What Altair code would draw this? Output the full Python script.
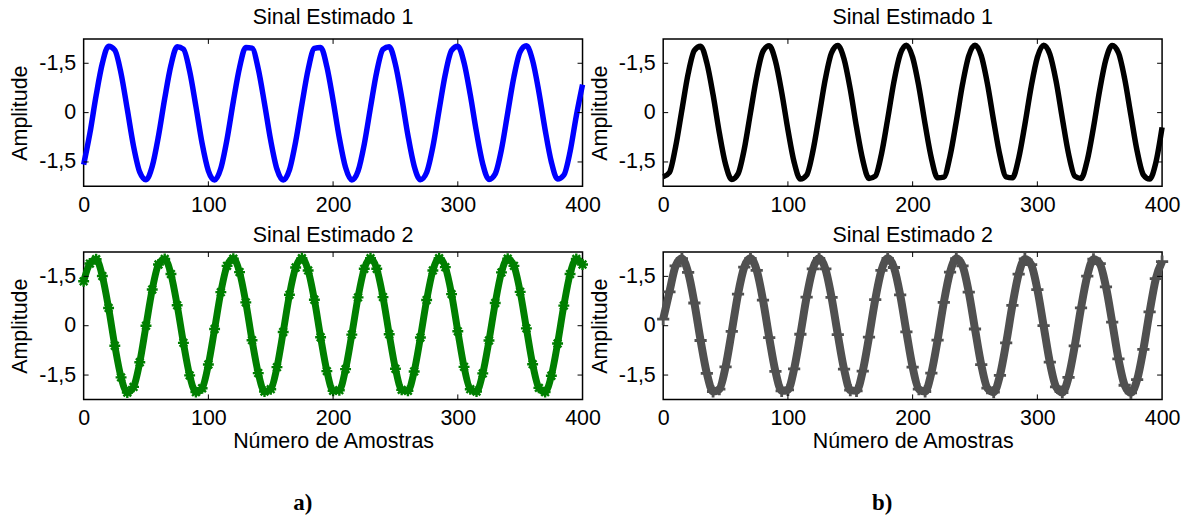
import altair as alt
import pandas as pd

# sample index (Número de Amostras), every 5th sample
samples = list(range(0, 401, 5))

# a) Sinal Estimado 1 (blue line)
sig_a1 = [-1.58, -0.63, 0.52, 1.50, 2.02, 1.90, 1.19, 0.10, -1.02, -1.81,
          -2.04, -1.63, -0.71, 0.43, 1.44, 2.00, 1.93, 1.26, 0.19, -0.94,
          -1.77, -2.05, -1.69, -0.80, 0.34, 1.37, 1.98, 1.96, 1.33, 0.28,
          -0.85, -1.72, -2.05, -1.74, -0.88, 0.25, 1.31, 1.95, 1.98, 1.40,
          0.37, -0.77, -1.67, -2.05, -1.78, -0.96, 0.16, 1.24, 1.92, 2.00,
          1.46, 0.46, -0.69, -1.62, -2.04, -1.82, -1.04, 0.08, 1.17, 1.89,
          2.02, 1.52, 0.54, -0.60, -1.56, -2.03, -1.86, -1.12, -0.01, 1.09,
          1.85, 2.03, 1.58, 0.63, -0.52, -1.50, -2.02, -1.90, -1.19, -0.10,
          0.85]

# a) Sinal Estimado 2 (green, star markers)
sig_a2 = [1.35, 1.89, 2.02, 1.51, 0.54, -0.61, -1.57, -2.03, -1.86, -1.11,
          0.00, 1.10, 1.86, 2.03, 1.57, 0.62, -0.52, -1.51, -2.02, -1.90,
          -1.18, -0.10, 1.02, 1.82, 2.04, 1.63, 0.71, -0.44, -1.44, -2.00,
          -1.93, -1.26, -0.19, 0.94, 1.77, 2.05, 1.68, 0.79, -0.35, -1.38,
          -1.98, -1.96, -1.32, -0.27, 0.86, 1.73, 2.05, 1.73, 0.87, -0.26,
          -1.31, -1.95, -1.98, -1.39, -0.36, 0.78, 1.68, 2.05, 1.78, 0.96,
          -0.17, -1.25, -1.93, -2.00, -1.45, -0.45, 0.69, 1.62, 2.04, 1.82,
          1.03, -0.08, -1.17, -1.89, -2.02, -1.52, -0.54, 0.61, 1.57, 2.03,
          1.86]

# b) Sinal Estimado 1 (black line)
sig_b1 = [-1.95, -1.82, -1.03, 0.08, 1.18, 1.89, 2.02, 1.51, 0.54, -0.61,
          -1.57, -2.03, -1.86, -1.11, 0.00, 1.10, 1.86, 2.03, 1.57, 0.62,
          -0.52, -1.51, -2.02, -1.90, -1.18, -0.10, 1.02, 1.82, 2.04, 1.63,
          0.71, -0.44, -1.44, -2.00, -1.93, -1.26, -0.19, 0.94, 1.77, 2.05,
          1.68, 0.79, -0.35, -1.38, -1.98, -1.96, -1.32, -0.27, 0.86, 1.73,
          2.05, 1.73, 0.87, -0.26, -1.31, -1.95, -1.98, -1.39, -0.36, 0.78,
          1.68, 2.05, 1.78, 0.96, -0.17, -1.25, -1.93, -2.00, -1.45, -0.45,
          0.69, 1.62, 2.04, 1.82, 1.03, -0.08, -1.17, -1.89, -2.02, -1.52,
          -0.45]

# b) Sinal Estimado 2 (gray, plus markers)
sig_b2 = [0.20, 1.03, 1.82, 2.04, 1.62, 0.69, -0.45, -1.45, -2.00, -1.93,
          -1.25, -0.17, 0.96, 1.78, 2.05, 1.68, 0.78, -0.36, -1.39, -1.98,
          -1.95, -1.31, -0.26, 0.87, 1.73, 2.05, 1.73, 0.86, -0.27, -1.32,
          -1.96, -1.98, -1.38, -0.35, 0.79, 1.68, 2.05, 1.77, 0.94, -0.19,
          -1.26, -1.93, -2.00, -1.44, -0.44, 0.71, 1.63, 2.04, 1.82, 1.02,
          -0.10, -1.18, -1.90, -2.02, -1.51, -0.52, 0.62, 1.57, 2.03, 1.86,
          1.10, 0.00, -1.11, -1.86, -2.03, -1.57, -0.61, 0.54, 1.51, 2.02,
          1.89, 1.18, 0.11, -1.01, -1.81, -2.04, -1.64, -0.72, 0.42, 1.43,
          1.95]

titles = ["Sinal Estimado 1", "Sinal Estimado 2"]
x_title = "Número de Amostras"
y_title = "Amplitude"
panel_tags = ["a)", "b)"]
x_ticks = [0, 100, 200, 300, 400]
y_ticks = [-1.5, 0, 1.5]

W, H = 501, 148
FONT = "Liberation Sans"
FS = 21.5

STAR = "M-1,0L1,0M0,-1L0,1M-0.7,-0.7L0.7,0.7M-0.7,0.7L0.7,-0.7"
PLUS = "M-1,0L1,0M0,-1L0,1"


def panel(vals, color, title, title_dy, marker=None, bottom=False, tag=None,
          lw=5.5, msize=100, mwidth=2.2):
    df = pd.DataFrame({"n": samples, "v": vals})
    xscale = alt.Scale(domain=[0, 400], nice=False, zero=False)
    yscale = alt.Scale(domain=[-2.24, 2.24], nice=False, zero=False)
    xaxis_kw = dict(values=x_ticks, ticks=False, domain=False, grid=False,
                    labelPadding=8, labelFontSize=FS, labelFont=FONT,
                    labelFlush=False, titleFontSize=FS, titleFont=FONT,
                    titleFontWeight="normal", titlePadding=2)
    xt = x_title if bottom else ""
    yaxis = alt.Axis(values=y_ticks, ticks=False, domain=False, grid=False,
                     labelExpr="datum.value == 0 ? '0' : '-1,5'",
                     labelPadding=8, labelFontSize=FS, labelFont=FONT,
                     titleFontSize=FS, titleFont=FONT, titleFontWeight="normal",
                     titlePadding=7)
    base = alt.Chart(df)
    layers = [
        base.mark_line(color=color, strokeWidth=lw,
                       interpolate="monotone").encode(
            x=alt.X("n:Q", scale=xscale, axis=alt.Axis(**xaxis_kw), title=xt),
            y=alt.Y("v:Q", scale=yscale, axis=yaxis, title=y_title),
        )
    ]
    if marker is not None:
        layers.append(
            base.mark_point(shape=marker, filled=False, stroke=color,
                            strokeWidth=mwidth, size=msize, opacity=1).encode(
                x=alt.X("n:Q", scale=xscale, title=xt),
                y=alt.Y("v:Q", scale=yscale, title=y_title),
            )
        )
    ytk = alt.Chart(pd.DataFrame({"t": y_ticks}))
    xtk = alt.Chart(pd.DataFrame({"t": x_ticks[1:-1]}))
    layers += [
        ytk.mark_rule(color="black", strokeWidth=1).encode(
            y=alt.Y("t:Q", scale=yscale, title=y_title), x=alt.value(0), x2=alt.value(5)),
        ytk.mark_rule(color="black", strokeWidth=1).encode(
            y=alt.Y("t:Q", scale=yscale, title=y_title), x=alt.value(W - 5), x2=alt.value(W)),
        xtk.mark_rule(color="black", strokeWidth=1).encode(
            x=alt.X("t:Q", scale=xscale, title=xt), y=alt.value(0), y2=alt.value(5)),
        xtk.mark_rule(color="black", strokeWidth=1).encode(
            x=alt.X("t:Q", scale=xscale, title=xt), y=alt.value(H - 5), y2=alt.value(H)),
        alt.Chart(pd.DataFrame({"ttl": [title]})).mark_text(
            font=FONT, fontSize=FS, color="black", baseline="middle",
            align="center").encode(
            text="ttl:N", x=alt.value(W / 2), y=alt.value(title_dy)),
    ]
    if tag is not None:
        layers.append(
            alt.Chart(pd.DataFrame({"lab": [tag]})).mark_text(
                font="Liberation Serif", fontWeight="bold", fontSize=23,
                color="black", baseline="middle", align="center").encode(
                text="lab:N", x=alt.value(220), y=alt.value(252))
        )
    return alt.layer(*layers).properties(width=W, height=H)


p_a1 = panel(sig_a1, "#0000FF", titles[0], -21)
p_b1 = panel(sig_b1, "#000000", titles[0], -21)
p_a2 = panel(sig_a2, "#007F00", titles[1], -16, marker=STAR, bottom=True,
             tag=panel_tags[0], lw=7, msize=120, mwidth=2.4)
p_b2 = panel(sig_b2, "#505050", titles[1], -16, marker=PLUS, bottom=True,
             tag=panel_tags[1], lw=8, msize=150, mwidth=2.8)

chart = alt.concat(
    p_a1, p_b1, p_a2, p_b2, columns=2,
    spacing={"row": 66, "column": 81}, bounds="flush",
).properties(
    padding={"left": 9, "top": 5, "right": 0, "bottom": 0},
    background="white",
).configure_view(stroke="black", strokeWidth=1.5).configure_axis(
    labelColor="black", titleColor="black"
)

chart.save("out.html", embed_options={"renderer": "svg", "actions": False})
